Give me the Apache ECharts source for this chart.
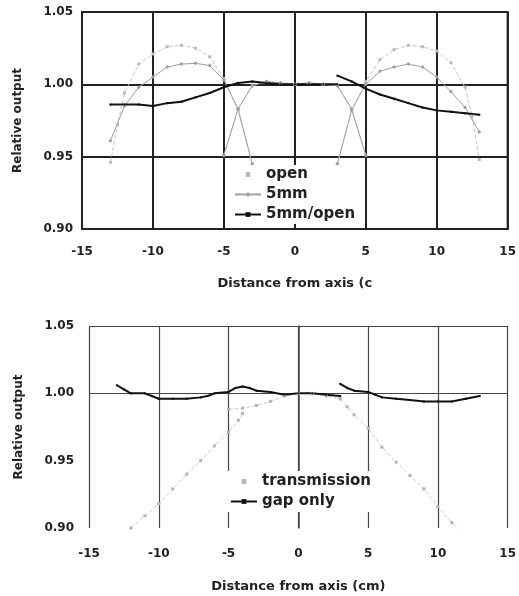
<!DOCTYPE html>
<html>
<head>
<meta charset="utf-8">
<script src="https://cdn.jsdelivr.net/npm/echarts@6/dist/echarts.min.js"></script>
<style>
  html, body { margin: 0; padding: 0; background: #fff; }
  #chart { width: 519px; height: 596px; }
</style>
</head>
<body>
<div id="chart"></div>
<script>
  // ticks
  var xTicks = [-15, -10, -5, 0, 5, 10, 15];
  var yTicks = [0.90, 0.95, 1.00, 1.05];

  // top panel: open field, left / centre / right segments
  var openLeftX = [-13, -12.5, -12, -11, -10, -9, -8, -7, -6, -5, -4, -3];
  var openLeftY = [0.946, 0.972, 0.994, 1.014, 1.021, 1.026, 1.027, 1.025, 1.019, 1.004, 0.982, 0.945];
  var openMidX = [-5, -4, -3, -2, -1, 0, 1, 2, 3, 4, 5];
  var openMidY = [0.951, 0.983, 0.999, 1.002, 1.001, 1.000, 1.001, 1.000, 0.999, 0.983, 0.951];
  var openRightX = [3, 4, 5, 6, 7, 8, 9, 10, 11, 12, 12.5, 13];
  var openRightY = [0.945, 0.982, 1.002, 1.017, 1.024, 1.027, 1.026, 1.023, 1.015, 0.998, 0.978, 0.948];

  // top panel: 5mm
  var mmLeftX = [-13, -12, -11, -10, -9, -8, -7, -6, -5, -4, -3];
  var mmLeftY = [0.961, 0.985, 0.998, 1.005, 1.012, 1.014, 1.0145, 1.013, 1.003, 0.983, 0.945];
  var mmMidX = [-5, -4, -3, -2, -1, 0, 1, 2, 3, 4, 5];
  var mmMidY = [0.951, 0.983, 0.999, 1.002, 1.001, 1.000, 1.001, 1.000, 0.999, 0.983, 0.951];
  var mmRightX = [3, 4, 5, 6, 7, 8, 9, 10, 11, 12, 13];
  var mmRightY = [0.945, 0.982, 1.000, 1.009, 1.012, 1.014, 1.012, 1.005, 0.995, 0.984, 0.967];

  // top panel: 5mm/open ratio
  var ratioLeftX = [-13, -12, -11, -10, -9, -8, -7, -6, -5, -4, -3, -2, -1, 0, 1, 2, 3];
  var ratioLeftY = [0.986, 0.986, 0.986, 0.985, 0.987, 0.988, 0.991, 0.994, 0.998, 1.001, 1.002, 1.001, 1.000, 1.000, 1.000, 1.000, 1.000];
  var ratioRightX = [3, 4, 5, 6, 7, 8, 9, 10, 11, 12, 13];
  var ratioRightY = [1.006, 1.002, 0.997, 0.993, 0.990, 0.987, 0.984, 0.982, 0.981, 0.980, 0.979];

  // bottom panel: transmission
  var transLeftX = [-12, -11, -10, -9, -8, -7, -6, -5, -4.3, -4];
  var transLeftY = [0.900, 0.909, 0.918, 0.929, 0.940, 0.950, 0.961, 0.971, 0.980, 0.985];
  var transMidX = [-5, -4, -3, -2, -1, 0, 1, 2, 3];
  var transMidY = [0.988, 0.989, 0.991, 0.994, 0.998, 1.000, 1.000, 0.998, 0.996];
  var transRightX = [3, 3.5, 4, 5, 6, 7, 8, 9, 10, 11, 11.5];
  var transRightY = [0.996, 0.990, 0.984, 0.974, 0.960, 0.949, 0.939, 0.929, 0.916, 0.904, 0.899];

  // bottom panel: gap only
  var gapLeftX = [-13, -12.5, -12, -11, -10.5, -10, -9, -8, -7, -6.5, -6, -5, -4.5, -4, -3.5, -3, -2, -1, 0, 1, 2, 3];
  var gapLeftY = [1.006, 1.003, 1.000, 1.000, 0.998, 0.996, 0.996, 0.996, 0.997, 0.998, 1.000, 1.001, 1.004, 1.005, 1.004, 1.002, 1.001, 0.999, 1.000, 1.000, 0.999, 0.998];
  var gapRightX = [3, 3.5, 4, 5, 5.5, 6, 7, 8, 9, 10, 11, 12, 13];
  var gapRightY = [1.007, 1.004, 1.002, 1.001, 0.999, 0.997, 0.996, 0.995, 0.994, 0.994, 0.994, 0.996, 0.998];

  function seg(xs, ys) {
    return xs.map(function (x, i) { return [x, ys[i]]; });
  }
  // join segments, breaking the line between them
  function joined() {
    var out = [];
    for (var i = 0; i < arguments.length; i++) {
      if (i > 0) out.push(['-', '-']);
      out = out.concat(arguments[i]);
    }
    return out;
  }

  var font = 'DejaVu Sans, Verdana, sans-serif';
  var labelStyle = { color: '#222', fontSize: 12, fontWeight: 'bold', fontFamily: font };
  var nameStyle = { color: '#222', fontSize: 13, fontWeight: 'bold', fontFamily: font };
  var yNameStyle = { color: '#222', fontSize: 12, fontWeight: 'bold', fontFamily: font };
  var legendText = { color: '#222', fontSize: 15, fontWeight: 'bold', fontFamily: font };

  var chart = echarts.init(document.getElementById('chart'));
  var option = {
    backgroundColor: '#fff',
    animation: false,
    grid: [
      { left: 82, right: 9, top: 12, height: 217, show: true, borderColor: '#222', borderWidth: 2 },
      { left: 89, right: 10, top: 326, height: 202 }
    ],
    legend: [
      {
        orient: 'vertical', left: 230, top: 165, padding: [2, 4, 2, 4],
        backgroundColor: '#fff', itemWidth: 26, itemHeight: 6, itemGap: 5,
        textStyle: legendText,
        data: [
          { name: 'open', lineStyle: { opacity: 0 } },
          { name: '5mm' },
          { name: '5mm/open' }
        ]
      },
      {
        orient: 'vertical', left: 226, top: 471, padding: [3, 6, 3, 4],
        backgroundColor: '#fff', itemWidth: 26, itemHeight: 6, itemGap: 5,
        textStyle: legendText,
        data: [
          { name: 'transmission', lineStyle: { opacity: 0 } },
          { name: 'gap only' }
        ]
      }
    ],
    xAxis: [
      {
        type: 'value', gridIndex: 0, min: xTicks[0], max: xTicks[xTicks.length - 1], interval: 5,
        axisLine: { show: true, lineStyle: { color: '#222', width: 2 } },
        axisTick: { show: false },
        axisLabel: Object.assign({ margin: 17 }, labelStyle),
        splitLine: { show: true, lineStyle: { color: '#222', width: 2 } },
        name: 'Distance from axis (c', nameLocation: 'middle', nameGap: 48, nameTextStyle: nameStyle
      },
      {
        type: 'value', gridIndex: 1, min: xTicks[0], max: xTicks[xTicks.length - 1], interval: 5,
        axisLine: { show: false },
        axisTick: { show: false },
        axisLabel: Object.assign({ margin: 20 }, labelStyle),
        splitLine: { show: true, lineStyle: { color: '#444', width: 1.2 } },
        name: 'Distance from axis (cm)', nameLocation: 'middle', nameGap: 52, nameTextStyle: nameStyle
      }
    ],
    yAxis: [
      {
        type: 'value', gridIndex: 0, min: yTicks[0], max: yTicks[yTicks.length - 1], interval: 0.05,
        axisLine: { show: true, lineStyle: { color: '#222', width: 2 } },
        axisTick: { show: false },
        axisLabel: Object.assign({ margin: 9, formatter: function (v) { return v.toFixed(2); } }, labelStyle),
        splitLine: { show: true, lineStyle: { color: '#222', width: 2 } },
        name: 'Relative output', nameLocation: 'middle', nameGap: 58, nameTextStyle: yNameStyle
      },
      {
        type: 'value', gridIndex: 1, min: yTicks[0], max: yTicks[yTicks.length - 1], interval: 0.05,
        axisLine: { show: true, lineStyle: { color: '#444', width: 1.5 } },
        axisTick: { show: false },
        axisLabel: Object.assign({ margin: 15, formatter: function (v) { return v.toFixed(2); } }, labelStyle),
        splitLine: { show: true, lineStyle: { color: ['transparent', 'transparent', '#444', '#444'], width: 1.2 } },
        name: 'Relative output', nameLocation: 'middle', nameGap: 64, nameTextStyle: yNameStyle
      }
    ],
    series: [
      {
        name: 'open', type: 'line', xAxisIndex: 0, yAxisIndex: 0,
        symbol: 'rect', symbolSize: 3,
        lineStyle: { color: '#c8c8c8', width: 1, type: 'dashed' },
        itemStyle: { color: '#bbbbbb' },
        data: joined(seg(openLeftX, openLeftY), seg(openMidX, openMidY), seg(openRightX, openRightY))
      },
      {
        name: '5mm', type: 'line', xAxisIndex: 0, yAxisIndex: 0,
        symbol: 'diamond', symbolSize: 4,
        lineStyle: { color: '#a0a0a0', width: 1 },
        itemStyle: { color: '#a0a0a0' },
        data: joined(seg(mmLeftX, mmLeftY), seg(mmMidX, mmMidY), seg(mmRightX, mmRightY))
      },
      {
        name: '5mm/open', type: 'line', xAxisIndex: 0, yAxisIndex: 0,
        symbol: 'rect', symbolSize: 2,
        lineStyle: { color: '#111', width: 2 },
        itemStyle: { color: '#111' },
        data: joined(seg(ratioLeftX, ratioLeftY), seg(ratioRightX, ratioRightY))
      },
      {
        name: 'transmission', type: 'line', xAxisIndex: 1, yAxisIndex: 1,
        symbol: 'rect', symbolSize: 3,
        lineStyle: { color: '#cccccc', width: 1, type: 'dashed' },
        itemStyle: { color: '#b4b4b4' },
        data: joined(seg(transLeftX, transLeftY), seg(transMidX, transMidY), seg(transRightX, transRightY))
      },
      {
        name: 'gap only', type: 'line', xAxisIndex: 1, yAxisIndex: 1,
        symbol: 'rect', symbolSize: 2,
        lineStyle: { color: '#111', width: 2 },
        itemStyle: { color: '#111' },
        data: joined(seg(gapLeftX, gapLeftY), seg(gapRightX, gapRightY))
      }
    ]
  };
  chart.setOption(option);
</script>
</body>
</html>
